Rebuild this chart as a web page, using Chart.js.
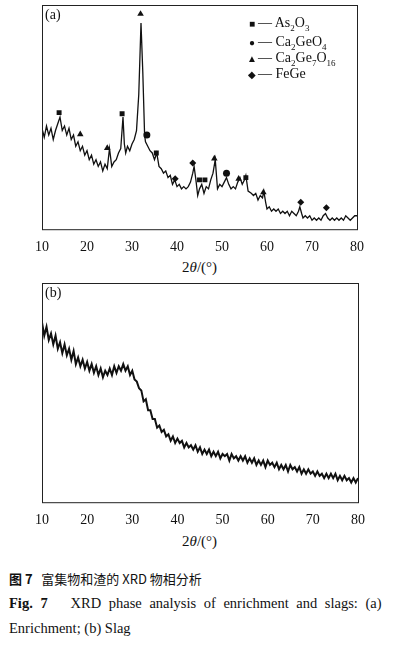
<!DOCTYPE html>
<html><head><meta charset="utf-8">
<script src="https://cdn.jsdelivr.net/npm/chart.js@4/dist/chart.umd.min.js"></script>
<style>
body{margin:0;width:401px;height:646px;background:#fff;position:relative;font-family:"Liberation Serif",serif;color:#111;overflow:hidden}
canvas{position:absolute;left:0}
.t{position:absolute;white-space:nowrap}
.leg{font-size:14px;line-height:15px}
.leg span.m{display:inline-block;width:12px;font-size:10px;text-align:center}
.cap{font-size:14.5px}
</style></head><body>
<canvas id="ca" style="top:0px" width="401" height="258"></canvas>
<canvas id="cb" style="top:278px" width="401" height="253"></canvas>
<div class="t" style="left:45px;top:7px;font-size:14px">(a)</div>
<div class="t" style="left:45px;top:285px;font-size:14px">(b)</div>
<div class="t leg" style="left:246px;top:15px"><span class="m">■</span>— As<sub style="font-size:9px">2</sub>O<sub style="font-size:9px">3</sub></div>
<div class="t leg" style="left:246px;top:34px"><span class="m">●</span>— Ca<sub style="font-size:9px">2</sub>GeO<sub style="font-size:9px">4</sub></div>
<div class="t leg" style="left:246px;top:50px"><span class="m">▲</span>— Ca<sub style="font-size:9px">2</sub>Ge<sub style="font-size:9px">7</sub>O<sub style="font-size:9px">16</sub></div>
<div class="t leg" style="left:246px;top:66px"><span class="m">◆</span>— FeGe</div>
<div class="t" style="left:182px;top:259px;font-size:15px">2<i>θ</i>/(°)</div>
<div class="t" style="left:182px;top:533px;font-size:15px">2<i>θ</i>/(°)</div>
<div class="t cap" style="left:9px;top:569px;font-family:'Noto Sans CJK SC',sans-serif;font-size:13px"><b>图 7</b>&nbsp;&nbsp; 富集物和渣的 XRD 物相分析</div>
<div class="t cap" style="left:9px;top:595px;word-spacing:4px"><b>Fig. 7</b>&nbsp;&nbsp; XRD phase analysis of enrichment and slags: (a)</div>
<div class="t cap" style="left:9px;top:620px">Enrichment; (b) Slag</div>
<script>
// (a) enrichment pattern
const anglesA = [10,10.5,11,11.5,12,12.5,13,13.5,14,14.5,15,15.5,16,16.5,17,17.5,18,18.5,19,19.5,20,20.5,21,21.5,22,22.5,23,23.5,24,24.5,25,25.5,26,26.5,27,27.5,28,28.3,28.6,29,29.5,30,30.5,31,31.5,32,32.4,32.8,33,33.5,34,34.5,35,35.5,36,36.5,37,37.5,38,38.5,39,39.5,40,40.5,41,41.5,42,42.5,43,43.5,43.8,44.2,44.6,45,45.5,46,46.5,47,47.5,48,48.5,49,49.5,50,50.5,51,51.5,52,52.5,53,53.5,54,54.5,55,55.3,55.8,56.5,57,57.5,58,58.5,59,59.3,59.7,60,60.5,61,61.5,62,62.5,63,63.5,64,64.5,65,65.5,66,66.5,67,67.3,67.7,68,68.5,69,69.5,70,70.5,71,71.5,72,72.5,73,73.5,74,74.5,75,75.5,76,76.5,77,77.5,78,78.5,79,79.5,80];
const intensityA = [45,41,46,42,45,40,44,47,50,44,46,42,45,40,42,37,39,35,37,33,35,31,33,29,31,28,30,26,29,27,36,28,30,31,34,36,50,38,34,37,35,38,40,44,60,92,70,42,39,37,35,34,31,34,28,27,25,26,23,24,20,22,19,20,18,19,18,19,21,25,28,22,15,18,20,16,19,18,22,25,31,18,20,19,21,23,20,18,19,18,21,23,20,22,24,17,16,15,16,13,15,14,17,12,9,10,8,9,8,9,7,8,7,8,6,8,7,6,8,10,7,5,6,5,6,4,5,4,5,4,6,7,5,4,5,4,5,4,5,4,6,5,4,5,6,6];
// phase markers [angle, height]
const as2o3 = [[13.8,52],[27.8,51.5],[35.4,34],[45,22],[46.2,22],[55.3,23]];
const ca2geo4 = [[33.3,42],[51,25]];
const ca2ge7o16 = [[18.5,42.3],[24.5,36.2],[31.9,96],[48.3,31.5],[53.7,22.5],[59.2,16.4]];
const fege = [[39.6,22.5],[43.5,29.5],[67.5,12],[73.2,9.6]];
// (b) slag pattern
const anglesB = [];
for (let a = 10; a <= 80; a += 0.5) anglesB.push(a);
const intensityB = [82,76,80,74,77,72,76,70,73,68,72,67,70,65,69,63,66,62,65,61,64,60,63,59,62,58,61,57,60,58,61,58,62,59,62,60,63,60,62,58,60,56,55,52,51,46,47,42,42,38,38,34,35,32,33,30,31,28,30,27,29,27,28,25,27,25,26,24,26,23,25,22,24,22,24,21,23,21,23,20,22,21,22,19,22,20,21,19,21,19,21,18,20,18,20,17,19,17,19,16,19,17,18,16,18,15,17,15,17,14,17,15,16,14,16,13,15,13,15,13,14,12,14,12,13,11,13,11,13,11,13,10,12,10,12,10,11,9,11,9,11];
const xTicks = [10,20,30,40,50,60,70,80];

const frame = {
  id: 'frame',
  afterDraw(c) {
    const a = c.chartArea, x = c.ctx;
    x.save(); x.strokeStyle = '#222'; x.lineWidth = 1;
    x.strokeRect(a.left + 0.5, a.top + 0.5, a.right - a.left, a.bottom - a.top);
    x.restore();
  }
};

function pts(xs, ys) { return xs.map((v, i) => ({ x: v, y: ys[i] })); }
function mk(list, style, r) {
  return { type: 'scatter', data: list.map(p => ({ x: p[0], y: p[1] })), pointStyle: style,
    pointRadius: r, backgroundColor: '#111', borderColor: '#111', borderWidth: 0 };
}

function makeChart(id, datasets, pad) {
  return new Chart(document.getElementById(id), {
    type: 'line',
    data: { datasets },
    options: {
      responsive: false, animation: false,
      layout: { padding: pad },
      plugins: { legend: { display: false }, tooltip: { enabled: false } },
      scales: {
        x: { type: 'linear', min: 10, max: 80, grid: { display: false }, border: { display: false },
          afterBuildTicks: ax => { ax.ticks = xTicks.map(v => ({ value: v })); },
          ticks: { color: '#111', font: { family: 'Liberation Serif', size: 14 }, padding: 2, maxRotation: 0 } },
        y: { display: false, min: 0, max: 100 }
      }
    },
    plugins: [frame]
  });
}

makeChart('ca', [
  { data: pts(anglesA, intensityA), borderColor: '#111', borderWidth: 1.3, pointRadius: 0, tension: 0 },
  mk(as2o3, 'rect', 3.5), mk(ca2geo4, 'circle', 3.5), mk(ca2ge7o16, 'triangle', 3.8), mk(fege, 'rectRot', 3.5)
], { left: 42, right: 44, top: 5 });

makeChart('cb', [
  { data: pts(anglesB, intensityB), borderColor: '#111', borderWidth: 2, pointRadius: 0, tension: 0 }
], { left: 42, right: 43, top: 5 });
</script>
</body></html>
